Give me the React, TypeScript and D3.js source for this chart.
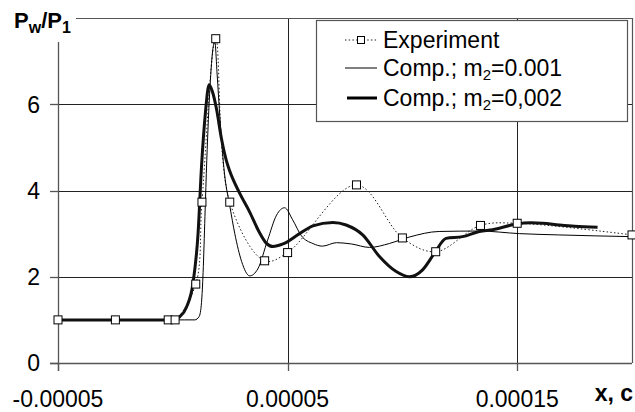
import React from "react";
import * as d3 from "d3";

// ---- data ----
const xTickValues = [-0.00005, 0.00005, 0.00015];
const xTickLabels = ["-0.00005", "0.00005", "0.00015"];
const yTickValues = [0, 2, 4, 6];
const yGridValues = [2, 4, 6];
const xDomain = [-0.00005, 0.0002];
const yDomain = [0, 8];

const expX = [-0.00005, -0.000025, -0.000002, 0.000001, 0.00001, 0.0000127, 0.0000187, 0.0000248, 0.00004, 0.00005, 0.00008, 0.0001, 0.0001145, 0.000134, 0.00015, 0.0002];
const expY = [1.0, 1.0, 1.0, 1.0, 1.83, 3.73, 7.52, 3.73, 2.37, 2.56, 4.13, 2.9, 2.58, 3.19, 3.24, 2.97];

const thinX = [-0.00005, 0.000005, 0.0000096, 0.0000115, 0.0000125, 0.0000132, 0.000014, 0.0000148, 0.0000162, 0.0000175, 0.0000183, 0.0000193, 0.0000205, 0.0000225, 0.0000248, 0.000027, 0.00003, 0.0000335, 0.000037, 0.0000413, 0.0000452, 0.0000487, 0.0000522, 0.000056, 0.000061, 0.0000652, 0.0000713, 0.0000778, 0.0000857, 0.0000943, 0.000103, 0.000116, 0.0001335, 0.000151, 0.000168, 0.0002];
const thinY = [1.0, 1.0, 1.0, 1.08, 1.4, 2.1, 3.4, 4.7, 6.4, 7.3, 7.45, 6.7, 5.7, 4.4, 3.65, 3.0, 2.35, 2.02, 2.18, 2.85, 3.43, 3.6, 3.32, 2.95, 2.77, 2.71, 2.79, 2.76, 2.68, 2.77, 2.92, 3.05, 3.06, 3.0, 2.97, 2.93];

const thickX = [-0.00005, -0.00002, 0.0, 0.000003, 0.000006, 0.0000088, 0.000011, 0.0000125, 0.0000142, 0.0000158, 0.0000172, 0.000019, 0.0000212, 0.0000233, 0.0000248, 0.000029, 0.0000335, 0.0000375, 0.0000407, 0.0000436, 0.000048, 0.0000552, 0.000061, 0.0000697, 0.0000755, 0.0000827, 0.00009, 0.0000973, 0.000103, 0.0001088, 0.0001139, 0.000119, 0.0001262, 0.0001335, 0.0001393, 0.0001494, 0.000156, 0.000161, 0.0001683, 0.000175, 0.000185];
const thickY = [1.0, 1.0, 1.0, 1.07, 1.3, 1.85, 3.0, 4.55, 5.8, 6.45, 6.3, 5.9, 5.2, 4.7, 4.45, 3.95, 3.5, 3.05, 2.78, 2.7, 2.76, 3.0, 3.18, 3.26, 3.2, 2.97, 2.47, 2.12, 2.0, 2.16, 2.54, 2.89, 2.93, 3.05, 3.09, 3.22, 3.25, 3.24, 3.2, 3.17, 3.15];

const legendLabels = ["Experiment", "Comp.; m", "Comp.; m"];
const legendSuffix = ["", "=0.001", "=0,002"];

// ---- layout ----
const W = 635;
const H = 412;
const L = 58, R = 632, T = 18, B = 363;
const FONT = "'Liberation Sans', Arial, sans-serif";

export default function App() {
  const x = d3.scaleLinear().domain(xDomain).range([L, R]);
  const y = d3.scaleLinear().domain(yDomain).range([B, T]);

  const expPts = expX.map((v, i) => [x(v), y(expY[i])] as [number, number]);
  const thinPts = thinX.map((v, i) => [x(v), y(thinY[i])] as [number, number]);
  const thickPts = thickX.map((v, i) => [x(v), y(thickY[i])] as [number, number]);

  const smooth = d3.line().curve(d3.curveCatmullRom.alpha(0.5));
  const mono = d3.line().curve(d3.curveMonotoneX);

  const gridColor = "#222";
  const axisColor = "#555";

  const lx0 = 345, lx1 = 377;
  const legendRows = [40, 68, 98];

  return (
    <svg width={W} height={H} style={{ position: "absolute", left: 0, top: 0, background: "#fff" }} fontFamily={FONT}>
      <rect x={0} y={0} width={W} height={H} fill="#fff" />
      {/* grid */}
      {yGridValues.map((v) => (
        <line key={"gy" + v} x1={L} x2={R} y1={Math.round(y(v)) + 0.5} y2={Math.round(y(v)) + 0.5} stroke={gridColor} strokeWidth={1} />
      ))}
      {xTickValues.slice(1).map((v) => (
        <line key={"gx" + v} x1={Math.round(x(v)) + 0.5} x2={Math.round(x(v)) + 0.5} y1={T} y2={B} stroke={gridColor} strokeWidth={1} />
      ))}
      {/* plot border */}
      <line x1={L} x2={R} y1={T + 0.5} y2={T + 0.5} stroke={axisColor} strokeWidth={1.2} />
      <line x1={R + 0.5} x2={R + 0.5} y1={T} y2={B} stroke={axisColor} strokeWidth={1.2} />
      {/* axes */}
      <line x1={L - 8} x2={R} y1={B + 0.5} y2={B + 0.5} stroke={axisColor} strokeWidth={1.3} />
      <line x1={L + 0.5} x2={L + 0.5} y1={T} y2={B + 8} stroke={axisColor} strokeWidth={1.3} />
      {yTickValues.map((v) => (
        <g key={"yt" + v}>
          <line x1={L - 8} x2={L} y1={Math.round(y(v)) + 0.5} y2={Math.round(y(v)) + 0.5} stroke={axisColor} strokeWidth={1.3} />
          <text x={40} y={y(v)} dy="0.36em" textAnchor="end" fontSize={23} fill="#000">{v}</text>
        </g>
      ))}
      {xTickValues.map((v, i) => (
        <g key={"xt" + v}>
          <line x1={Math.round(x(v)) + 0.5} x2={Math.round(x(v)) + 0.5} y1={B} y2={B + 8} stroke={axisColor} strokeWidth={1.3} />
          <text x={x(v)} y={407} textAnchor="middle" fontSize={23} fill="#000">{xTickLabels[i]}</text>
        </g>
      ))}
      <text x={633} y={401} textAnchor="end" fontSize={23} fontWeight="bold" fill="#000">x, c</text>

      {/* series */}
      <path d={smooth(expPts) || ""} fill="none" stroke="#222" strokeWidth={1} strokeDasharray="1.5,2.2" />
      <path d={mono(thinPts) || ""} fill="none" stroke="#000" strokeWidth={1} />
      <path d={mono(thickPts) || ""} fill="none" stroke="#111" strokeWidth={3} strokeLinejoin="round" />
      {expPts.map((p, i) => (
        <rect key={"m" + i} x={p[0] - 4} y={p[1] - 4} width={8} height={8} fill="#fff" stroke="#000" strokeWidth={1} />
      ))}

      {/* legend */}
      <rect x={316.5} y={20.5} width={311} height={101} fill="#fff" stroke={axisColor} strokeWidth={1.2} />
      <line x1={lx0} x2={lx1} y1={legendRows[0]} y2={legendRows[0]} stroke="#222" strokeWidth={1} strokeDasharray="1.5,2.2" />
      <rect x={(lx0 + lx1) / 2 - 3.5} y={legendRows[0] - 3.5} width={7} height={7} fill="#fff" stroke="#000" strokeWidth={1} />
      <line x1={lx0} x2={lx1} y1={legendRows[1]} y2={legendRows[1]} stroke="#000" strokeWidth={1} />
      <line x1={lx0 + 2} x2={lx1} y1={legendRows[2]} y2={legendRows[2]} stroke="#000" strokeWidth={3} />
      {legendLabels.map((lab, i) => (
        <text key={"lg" + i} x={383} y={legendRows[i] + 8} fontSize={23} fill="#000">
          {lab}
          {i > 0 ? <tspan fontSize={15} dy={4}>2</tspan> : null}
          {i > 0 ? <tspan dy={-4}>{legendSuffix[i]}</tspan> : null}
        </text>
      ))}

      {/* y title */}
      <rect x={8} y={0} width={68} height={42} fill="#fff" />
      <text x={14} y={28} fontSize={22} fontWeight="bold" fill="#000">
        P<tspan fontSize={16} dy={5}>w</tspan><tspan dy={-5}>/P</tspan><tspan fontSize={16} dy={5}>1</tspan>
      </text>
    </svg>
  );
}
